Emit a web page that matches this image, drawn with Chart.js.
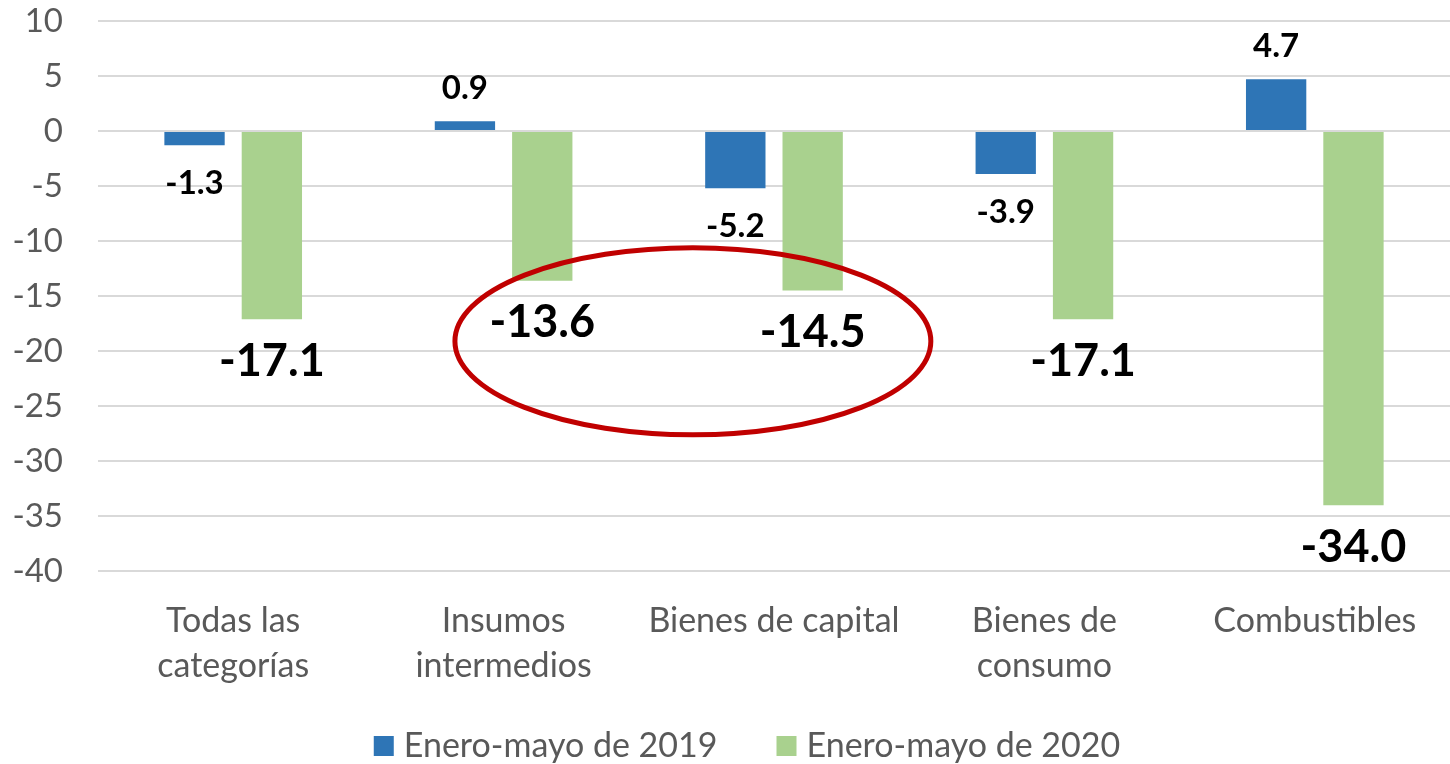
<!DOCTYPE html>
<html>
<head>
<meta charset="utf-8">
<script src="https://cdn.jsdelivr.net/npm/chart.js@4/dist/chart.umd.min.js"></script>
<style>
  html, body { margin: 0; padding: 0; background: #fff; }
  #wrap { width: 1450px; height: 764px; }
</style>
</head>
<body>
<div id="wrap"><canvas id="myChart" width="1450" height="764"></canvas></div>
<script>
const categories = [['Todas las', 'categorías'], ['Insumos', 'intermedios'], 'Bienes de capital', ['Bienes de', 'consumo'], 'Combustibles'];
const series_names = ['Enero-mayo de 2019', 'Enero-mayo de 2020'];
const values_2019 = [-1.3, 0.9, -5.2, -3.9, 4.7];
const values_2020 = [-17.1, -13.6, -14.5, -17.1, -34.0];
const y_ticks = [10, 5, 0, -5, -10, -15, -20, -25, -30, -35, -40];
// highlighted area (in data units: category index / value)
const ellipse_center = [1.7, -19.1];
const ellipse_radius = [0.88, 8.5];

const font_name = 'Lato, "Open Sans", sans-serif';

const value_labels = {
    id: 'value_labels',
    afterDatasetsDraw(chart) {
        const ctx = chart.ctx;
        ctx.save();
        ctx.fillStyle = '#000';
        ctx.textAlign = 'center';
        ctx.textBaseline = 'middle';
        chart.data.datasets.forEach((ds, i) => {
            const meta = chart.getDatasetMeta(i);
            const big = i === 1;
            ctx.font = 'bold ' + (big ? 45 : 33) + 'px ' + font_name;
            meta.data.forEach((bar, j) => {
                const v = ds.data[j];
                let y;
                if (v < 0) y = bar.y + (big ? 42 : 38);
                else y = bar.y - 33;
                ctx.fillText(v.toFixed(1), bar.x, y);
            });
        });
        ctx.restore();
    }
};

const highlight = {
    id: 'highlight',
    afterDatasetsDraw(chart) {
        const x = chart.scales.x, y = chart.scales.y;
        const cx = x.getPixelForValue(ellipse_center[0]);
        const cy = y.getPixelForValue(ellipse_center[1]);
        const rx = Math.abs(x.getPixelForValue(ellipse_center[0] + ellipse_radius[0]) - cx);
        const ry = Math.abs(y.getPixelForValue(ellipse_center[1] + ellipse_radius[1]) - cy);
        const ctx = chart.ctx;
        ctx.save();
        ctx.strokeStyle = '#C00000';
        ctx.lineWidth = 5;
        ctx.beginPath();
        ctx.ellipse(cx, cy, rx, ry, 0, 0, Math.PI * 2);
        ctx.stroke();
        ctx.restore();
    }
};

// legend drawn by hand so the spacing can follow the original
const bottom_legend = {
    id: 'bottom_legend',
    afterDraw(chart) {
        const ctx = chart.ctx;
        ctx.save();
        ctx.font = '34px ' + font_name;
        ctx.textBaseline = 'middle';
        ctx.textAlign = 'left';
        const box = 20, gap = 10, spacing = 59;
        const items = chart.data.datasets.map(ds => ({ text: ds.label, color: ds.backgroundColor, w: ctx.measureText(ds.label).width }));
        let total = 0;
        items.forEach((it, i) => { total += box + gap + it.w + (i ? spacing : 0); });
        let x = chart.width / 2 + 22 - total / 2;
        const y = 746;
        items.forEach(it => {
            ctx.fillStyle = it.color;
            ctx.fillRect(x, y - box / 2, box, box);
            x += box + gap;
            ctx.fillStyle = '#595959';
            ctx.fillText(it.text, x, y);
            x += it.w + spacing;
        });
        ctx.restore();
    }
};

const ctx = document.getElementById('myChart');
new Chart(ctx, {
    type: 'bar',
    data: {
        labels: categories,
        datasets: [{
            label: series_names[0],
            data: values_2019,
            backgroundColor: '#2E75B6',
            categoryPercentage: 0.572,
            barPercentage: 0.78
        }, {
            label: series_names[1],
            data: values_2020,
            backgroundColor: '#A9D18E',
            categoryPercentage: 0.572,
            barPercentage: 0.78
        }]
    },
    options: {
        responsive: false,
        animation: false,
        layout: { padding: { top: 0, right: -5, left: 0, bottom: 49 } },
        plugins: {
            tooltip: { enabled: false },
            legend: { display: false }
        },
        scales: {
            y: {
                min: -40,
                max: 10,
                afterBuildTicks(scale) { scale.ticks = y_ticks.map(v => ({ value: v })); },
                afterFit(scale) {
                    scale.width = 98;
                    scale.paddingTop = 21;
                    scale.paddingBottom = 0;
                },
                ticks: {
                    color: '#595959',
                    padding: 35,
                    font: { family: font_name, size: 33 }
                },
                grid: { color: '#D9D9D9', lineWidth: 2, drawTicks: false },
                border: { display: false }
            },
            x: {
                afterFit(scale) {
                    scale.paddingLeft = 0;
                    scale.paddingRight = 0;
                },
                ticks: {
                    color: '#595959',
                    padding: 27,
                    maxRotation: 0,
                    font: { family: font_name, size: 34, lineHeight: 1.32 }
                },
                grid: { display: false, drawTicks: false },
                border: { display: false }
            }
        }
    },
    plugins: [value_labels, highlight, bottom_legend]
});
</script>
</body>
</html>
